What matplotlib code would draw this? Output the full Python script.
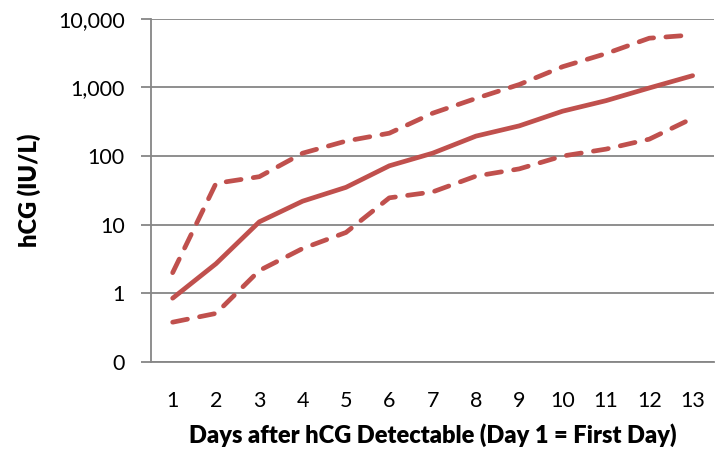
import matplotlib
matplotlib.use("Agg")
import matplotlib.pyplot as plt
from matplotlib.ticker import FixedLocator, FixedFormatter, NullLocator

plt.rcParams['font.family'] = ['Lato', 'DejaVu Sans']

days = list(range(1, 14))
median = [0.85, 2.7, 11, 22, 35, 72, 110, 195, 275, 450, 640, 980, 1480]
upper = [2.0, 40, 50, 110, 165, 215, 420, 690, 1100, 2000, 3100, 5200, 5800]
lower = [0.38, 0.51, 2.15, 4.5, 7.7, 24.6, 30, 51, 65, 100, 126, 176, 355]
ytick_vals = [0.1, 1, 10, 100, 1000, 10000]
ytick_labels = ["0", "1", "10", "100", "1,000", "10,000"]

color = "#C0504D"
grid = "#868686"

fig = plt.figure(figsize=(7.15, 4.51), dpi=100)
ax = fig.add_axes([151/715, (451-362)/451, 1 - 151/715 - 0.001, (362-18.7)/451])

ax.plot(days, median, color=color, lw=3.4, solid_capstyle='round', solid_joinstyle='round')
ax.plot(days, upper, color=color, lw=3.4, dashes=(3.2, 2.6), dash_capstyle='round')
ax.plot(days, lower, color=color, lw=3.4, dashes=(3.2, 2.6), dash_capstyle='round')

ax.set_yscale('log')
ax.set_ylim(0.1, 10000)
ax.set_xlim(0.5, 13.5)
ax.yaxis.set_major_locator(FixedLocator(ytick_vals))
ax.yaxis.set_major_formatter(FixedFormatter(ytick_labels))
ax.yaxis.set_minor_locator(NullLocator())
ax.set_xticks(days)
ax.set_xticklabels([str(d) for d in days])

ax.grid(axis='y', color=grid, lw=1.3)
ax.set_axisbelow(True)
for s in ['top', 'right']:
    ax.spines[s].set_visible(False)
for s in ['left', 'bottom']:
    ax.spines[s].set_color(grid)
    ax.spines[s].set_linewidth(1.3)

ax.tick_params(axis='y', length=7, width=1.3, color=grid, labelsize=15.5, pad=12, labelcolor='black')
ax.tick_params(axis='x', length=0, labelsize=15.5, pad=21, labelcolor='black')

ax.set_ylabel("hCG (IU/L)", fontsize=17, fontweight='heavy', labelpad=12)
ax.set_xlabel("Days after hCG Detectable (Day 1 = First Day)", fontsize=17, fontweight='heavy', labelpad=9)

fig.savefig("out.png", dpi=100)
